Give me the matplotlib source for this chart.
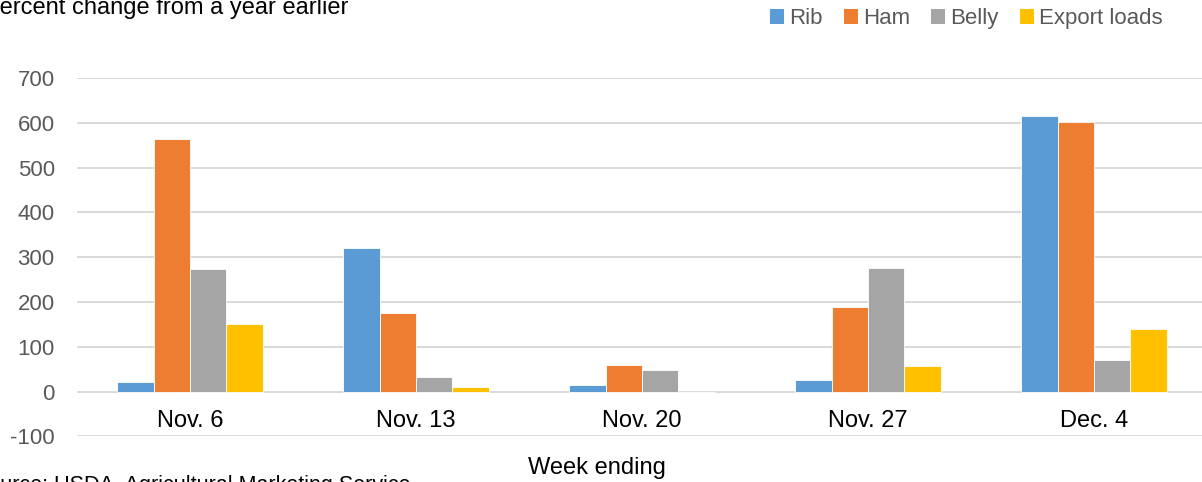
import matplotlib
matplotlib.use("Agg")
import matplotlib.pyplot as plt
from matplotlib.patches import Patch
import numpy as np

plt.rcParams['font.family'] = ['Liberation Sans', 'DejaVu Sans']

weeks = ["Nov. 6", "Nov. 13", "Nov. 20", "Nov. 27", "Dec. 4"]
series_names = ["Rib", "Ham", "Belly", "Export loads"]
rib = [21, 320, 14, 25, 615]
ham = [564, 175, 59, 189, 602]
belly = [273, 32, 48, 276, 70]
export_loads = [151, 10, -2, 57, 140]
colors = ["#5B9BD5", "#ED7D31", "#A5A5A5", "#FFC000"]
yticks = [-100, 0, 100, 200, 300, 400, 500, 600, 700]

fig = plt.figure(figsize=(12.02, 4.82), dpi=100)
ax = fig.add_axes([0.064, 0.0948, 0.936, 0.7435])

x = np.arange(len(weeks))
w = 0.161
data = [rib, ham, belly, export_loads]
for i, (vals, c) in enumerate(zip(data, colors)):
    ax.bar(x + (i - 1.5) * w, vals, width=w, color=c, edgecolor="white",
           linewidth=0.6, zorder=3)

ax.set_ylim(-100, 700)
ax.set_xlim(-0.5, -0.5 + (1202 - 77) / 226)
ax.set_yticks(yticks)
ax.set_yticklabels([str(v) for v in yticks], color="#595959", fontsize=16)
ax.tick_params(axis="y", length=0, pad=16)
ax.set_xticks([])
ax.grid(axis="y", color="#d9d9d9", linewidth=1.4, zorder=0)
for s in ax.spines.values():
    s.set_visible(False)

for xi, lab in zip(x, weeks):
    ax.text(xi, -79, lab, ha="center", va="baseline", fontsize=17, color="black")

fig.text(597 / 1202, 1 - 468 / 482, "Week ending", ha="center", va="center",
         fontsize=17, color="black")
fig.text(-16 / 1202, 1 - 14 / 482, "Percent change from a year earlier",
         ha="left", va="baseline", fontsize=17, color="black")
fig.text(-26 / 1202, 1 - 491 / 482, "Source: USDA, Agricultural Marketing Service.",
         ha="left", va="baseline", fontsize=15.5, color="black")

handles = [Patch(facecolor=c, edgecolor="none") for c in colors]
fig.legend(handles, series_names, loc="center right", ncol=4,
           bbox_to_anchor=(1163 / 1202, 1 - 18.5 / 482), frameon=False,
           fontsize=16, handlelength=0.64, handleheight=0.64,
           handletextpad=0.23, columnspacing=0.95, borderaxespad=0,
           borderpad=0, labelcolor="#595959")

fig.savefig("out.png", dpi=100)
